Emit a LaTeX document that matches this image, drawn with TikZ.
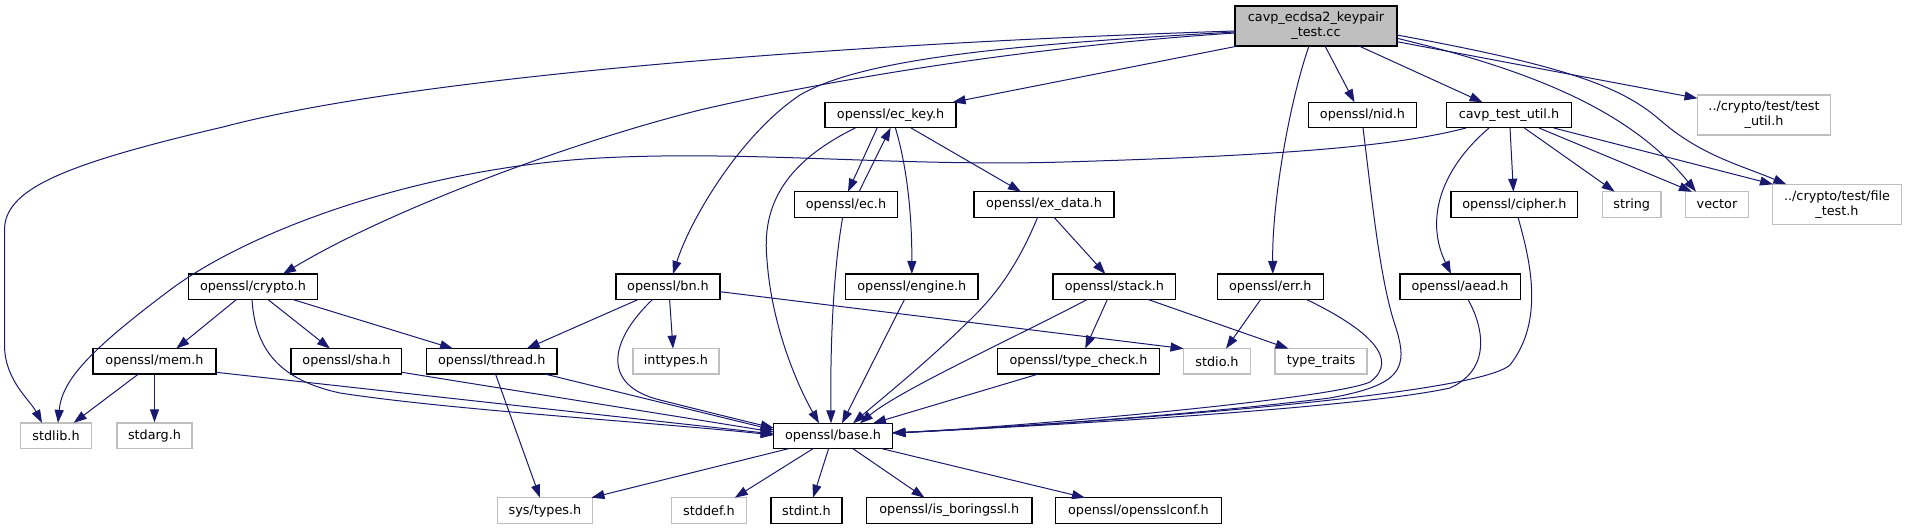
\documentclass[tikz,border=0pt]{standalone}
\usepackage{fontspec}
\setmainfont{DejaVu Sans}
\usetikzlibrary{arrows.meta}
\definecolor{edgeblue}{HTML}{191970}
\definecolor{gborder}{HTML}{BFBFBF}
\begin{document}
\begin{tikzpicture}[x=1pt,y=-1pt,
  box/.style={draw=black,line width=1.3pt,inner sep=0pt,minimum height=25.5pt,
    font=\fontsize{12.8}{15}\selectfont,text=black},
  sysbox/.style={box,draw=gborder},
  edge/.style={draw=edgeblue,line width=1pt,-{Triangle[length=13pt,width=9pt]}},
]
\fill[white] (0,0) rectangle (1907,529);
\useasboundingbox (0,0) rectangle (1907,529);

% nodes
\node[box,fill=gborder,minimum width=162pt,minimum height=40pt,align=center] (main) at (1316,26) {cavp\_ecdsa2\_keypair\\\_test.cc};
\node[box,minimum width=131pt] (eckey) at (890.6,115) {openssl/ec\_key.h};
\node[box,minimum width=103pt] (ec) at (846,204.5) {openssl/ec.h};
\node[box,minimum width=140pt] (exdata) at (1044,204.5) {openssl/ex\_data.h};
\node[box,minimum width=108.6pt] (nid) at (1362.5,115) {openssl/nid.h};
\node[box,minimum width=125pt] (ctu) at (1509,115) {cavp\_test\_util.h};
\node[sysbox,minimum width=133pt,minimum height=40pt,align=center] (testutil) at (1764,115) {../crypto/test/test\\\_util.h};
\node[box,minimum width=126.6pt] (cipher) at (1514.4,204.5) {openssl/cipher.h};
\node[sysbox,minimum width=58.6pt] (string) at (1631.7,204.5) {string};
\node[sysbox,minimum width=62.8pt] (vector) at (1717,204.5) {vector};
\node[sysbox,minimum width=128.5pt,minimum height=40pt,align=center] (filetest) at (1837,204.3) {../crypto/test/file\\\_test.h};
\node[box,minimum width=129.4pt] (crypto) at (253,286.7) {openssl/crypto.h};
\node[box,minimum width=104pt] (bn) at (668,286.7) {openssl/bn.h};
\node[box,minimum width=132.6pt] (engine) at (911.8,286.7) {openssl/engine.h};
\node[box,minimum width=122.8pt] (stack) at (1114.4,286.7) {openssl/stack.h};
\node[box,minimum width=105.8pt] (err) at (1270.3,286.7) {openssl/err.h};
\node[box,minimum width=120.3pt] (aead) at (1460,286.7) {openssl/aead.h};
\node[box,minimum width=123pt] (mem) at (154.5,361.3) {openssl/mem.h};
\node[box,minimum width=110.7pt] (sha) at (346.4,361.3) {openssl/sha.h};
\node[box,minimum width=130.8pt] (thread) at (491.7,361.3) {openssl/thread.h};
\node[sysbox,minimum width=86pt] (inttypes) at (676,361.3) {inttypes.h};
\node[box,minimum width=162.5pt] (typecheck) at (1078.5,361.3) {openssl/type\_check.h};
\node[sysbox,minimum width=67pt] (stdio) at (1217,361.3) {stdio.h};
\node[sysbox,minimum width=92pt] (typetraits) at (1321,361.3) {type\_traits};
\node[sysbox,minimum width=71pt] (stdlib) at (56,435.7) {stdlib.h};
\node[sysbox,minimum width=75pt] (stdarg) at (154.5,435.7) {stdarg.h};
\node[box,minimum width=118.7pt] (base) at (833,436) {openssl/base.h};
\node[sysbox,minimum width=95.5pt] (systypes) at (545,510.5) {sys/types.h};
\node[sysbox,minimum width=75pt] (stddef) at (709,510.5) {stddef.h};
\node[box,minimum width=71pt] (stdint) at (806.5,510.5) {stdint.h};
\node[box,minimum width=165.6pt] (isb) at (949.3,510.5) {openssl/is\_boringssl.h};
\node[box,minimum width=166pt] (osslconf) at (1138.4,510.5) {openssl/opensslconf.h};

% edges from main
\draw[edge] ([shift={(-81,5)}]main.center) .. controls (800,45) and (400,80) .. (223,127) .. controls (60,165) and (4.5,190) .. (4.5,230) -- (4.5,345) .. controls (4.5,380) and (30,400) .. ([shift={(-14,-12.85)}]stdlib.center);
\draw[edge] ([shift={(-81,7)}]main.center) .. controls (1050,45) and (850,75) .. (700,110) .. controls (560,145) and (380,215) .. ([shift={(30,-12.7)}]crypto.center);
\draw[edge] ([shift={(-81,6)}]main.center) .. controls (1000,45) and (860,60) .. (800,95) .. controls (740,135) and (690,220) .. ([shift={(5,-12.7)}]bn.center);
\draw[edge] ([shift={(-78,20)}]main.center) -- ([shift={(62,-12.7)}]eckey.center);
\draw[edge] ([shift={(9,20)}]main.center) -- ([shift={(-8,-12.7)}]nid.center);
\draw[edge] ([shift={(43,20)}]main.center) -- ([shift={(-26.5,-12.7)}]ctu.center);
\draw[edge] ([shift={(-7,20)}]main.center) .. controls (1290,100) and (1272,200) .. ([shift={(2.5,-12.7)}]err.center);
\draw[edge] ([shift={(81,15.7)}]main.center) -- ([shift={(-66.5,-16.7)}]testutil.center);
\draw[edge] ([shift={(81,12.3)}]main.center) .. controls (1530,70) and (1630,110) .. ([shift={(-21,-12.8)}]vector.center);
\draw[edge] ([shift={(81,9)}]main.center) .. controls (1560,65) and (1620,85) .. (1660,120) .. controls (1700,155) and (1740,165) .. ([shift={(-50.7,-20)}]filetest.center);

% edges from cavp_test_util.h
\draw[edge] ([shift={(-43,13)}]ctu.center) .. controls (1400,145) and (1300,155) .. (1064,162) .. controls (900,167) and (750,150) .. (600,158) .. controls (420,168) and (250,230) .. (170,290) .. controls (90,350) and (62,380) .. ([shift={(2,-12.85)}]stdlib.center);
\draw[edge] ([shift={(-20,13)}]ctu.center) .. controls (1440,170) and (1425,220) .. ([shift={(-9,-12.7)}]aead.center);
\draw[edge] ([shift={(1,13)}]ctu.center) -- ([shift={(-1,-12.8)}]cipher.center);
\draw[edge] ([shift={(15.4,13)}]ctu.center) -- ([shift={(-17,-12.8)}]string.center);
\draw[edge] ([shift={(30,13)}]ctu.center) -- ([shift={(-25,-12.8)}]vector.center);
\draw[edge] ([shift={(44.8,13)}]ctu.center) -- ([shift={(-64,-20)}]filetest.center);

% edges from ec_key.h and ec.h
\draw[edge] ([shift={(-13.4,12.8)}]eckey.center) -- ([shift={(2,-12.8)}]ec.center);
\draw[edge] ([shift={(13,-12.8)}]ec.center) -- ([shift={(0,12.8)}]eckey.center);
\draw[edge] ([shift={(-35.4,13)}]eckey.center) .. controls (780,165) and (762,210) .. (767,260) .. controls (772,330) and (800,390) .. ([shift={(-14,-12.7)}]base.center);
\draw[edge] ([shift={(4.8,13)}]eckey.center) .. controls (908,170) and (912,220) .. ([shift={(0,-12.7)}]engine.center);
\draw[edge] ([shift={(20.5,13)}]eckey.center) -- ([shift={(-23,-12.8)}]exdata.center);
\draw[edge] ([shift={(-3.3,12.8)}]ec.center) .. controls (835,260) and (830,330) .. ([shift={(-2,-12.7)}]base.center);

% ex_data.h, stack.h, type_check.h, engine.h
\draw[edge] ([shift={(10,12.8)}]exdata.center) -- ([shift={(-9,-12.7)}]stack.center);
\draw[edge] ([shift={(-6.4,12.8)}]exdata.center) .. controls (1020,260) and (1000,290) .. (975,315) .. controls (930,360) and (880,400) .. ([shift={(20,-12.7)}]base.center);
\draw[edge] ([shift={(-7,12.7)}]stack.center) -- ([shift={(6.7,-12.7)}]typecheck.center);
\draw[edge] ([shift={(33.4,12.7)}]stack.center) -- ([shift={(-32.6,-12.7)}]typetraits.center);
\draw[edge] ([shift={(-27,12.7)}]stack.center) .. controls (1010,340) and (900,390) .. ([shift={(27,-12.7)}]base.center);
\draw[edge] ([shift={(-40,12.7)}]typecheck.center) -- ([shift={(40,-12.7)}]base.center);
\draw[edge] ([shift={(-7.3,12.7)}]engine.center) -- ([shift={(9,-12.7)}]base.center);

% err.h, nid.h, aead.h, cipher.h
\draw[edge] ([shift={(-9.6,12.7)}]err.center) -- ([shift={(9,-12.7)}]stdio.center);
\draw[edge] ([shift={(36,12.7)}]err.center) .. controls (1370,330) and (1400,360) .. (1370,382) .. controls (1330,400) and (1000,428) .. ([shift={(59.4,-3)}]base.center);
\draw[edge] ([shift={(0.5,12.8)}]nid.center) .. controls (1372,200) and (1380,280) .. (1395,325) .. controls (1410,370) and (1400,385) .. (1330,398) .. controls (1150,420) and (950,430) .. ([shift={(59.4,-3)}]base.center);
\draw[edge] ([shift={(8,12.7)}]aead.center) .. controls (1485,330) and (1490,370) .. (1450,388) .. controls (1350,410) and (1000,428) .. ([shift={(59.4,-3)}]base.center);
\draw[edge] ([shift={(3.6,12.8)}]cipher.center) .. controls (1530,260) and (1545,320) .. (1510,365) .. controls (1470,400) and (1000,428) .. ([shift={(59.4,-3)}]base.center);

% bn.h
\draw[edge] ([shift={(-29.6,12.7)}]bn.center) -- ([shift={(35,-12.7)}]thread.center);
\draw[edge] ([shift={(-15.4,12.7)}]bn.center) .. controls (610,340) and (600,385) .. (660,400) .. controls (700,410) and (740,420) .. ([shift={(-59.3,-8)}]base.center);
\draw[edge] ([shift={(1.6,12.7)}]bn.center) -- ([shift={(-3,-12.7)}]inttypes.center);
\draw[edge] ([shift={(52,5)}]bn.center) -- ([shift={(-33.5,-12.7)}]stdio.center);

% crypto.h
\draw[edge] ([shift={(-16.4,12.7)}]crypto.center) -- ([shift={(21.8,-12.7)}]mem.center);
\draw[edge] ([shift={(14.8,12.7)}]crypto.center) -- ([shift={(-16.4,-12.7)}]sha.center);
\draw[edge] ([shift={(39.4,12.7)}]crypto.center) -- ([shift={(-38.7,-12.7)}]thread.center);
\draw[edge] ([shift={(-1,12.7)}]crypto.center) .. controls (255,350) and (280,380) .. (340,393) .. controls (450,410) and (650,422) .. ([shift={(-59.3,-1)}]base.center);

% thread.h, sha.h, mem.h
\draw[edge] ([shift={(53,12.7)}]thread.center) -- ([shift={(-59.3,-6)}]base.center);
\draw[edge] ([shift={(55.35,11)}]sha.center) -- ([shift={(-59.3,-4)}]base.center);
\draw[edge] ([shift={(61.5,11)}]mem.center) -- ([shift={(-59.3,-2)}]base.center);
\draw[edge] ([shift={(-16,12.7)}]mem.center) -- ([shift={(17.7,-12.85)}]stdlib.center);
\draw[edge] (mem.south) -- (stdarg.north);
\draw[edge] ([shift={(3.8,12.7)}]thread.center) -- ([shift={(-5,-12.8)}]systypes.center);

% base.h
\draw[edge] ([shift={(-44.6,12.7)}]base.center) -- ([shift={(46.5,-12.8)}]systypes.center);
\draw[edge] ([shift={(-20,12.7)}]base.center) -- ([shift={(25.8,-12.8)}]stddef.center);
\draw[edge] ([shift={(-4.4,12.7)}]base.center) -- ([shift={(6.5,-12.8)}]stdint.center);
\draw[edge] ([shift={(20,12.7)}]base.center) -- ([shift={(-24.8,-12.8)}]isb.center);
\draw[edge] ([shift={(49,12.7)}]base.center) -- ([shift={(-53.4,-12.8)}]osslconf.center);
\end{tikzpicture}
\end{document}
